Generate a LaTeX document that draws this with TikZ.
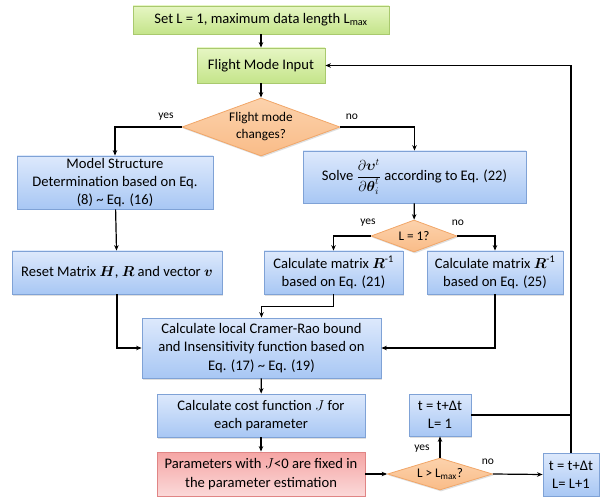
\documentclass[tikz,border=0pt]{standalone}
\usepackage{amsmath}
\usepackage{fontspec}
\setmainfont{Carlito}
\usetikzlibrary{shapes.geometric,arrows.meta,shadows,calc}
\begin{document}
\begin{tikzpicture}[x=1pt,y=-1pt,
  base/.style={draw, line width=0.8pt, align=center, inner sep=1pt,
    font={\fontsize{14.6}{18.3}\selectfont},
    drop shadow={opacity=0.25, shadow xshift=1pt, shadow yshift=-1.5pt}},
  greenbox/.style={base, top color=gbtop, bottom color=gbbot, draw=gbline},
  bluebox/.style={base, top color=bbtop, bottom color=bbbot, draw=bbline},
  redbox/.style={base, top color=rbtop, bottom color=rbbot, draw=rbline},
  decision/.style={base, shape=diamond, inner sep=0pt, top color=obtop, bottom color=obbot, draw=obline,
    font={\fontsize{13.2}{17}\selectfont}},
  conn/.style={line width=1.2pt, -{Stealth[length=5.5pt,width=4.5pt]}},
  plain/.style={line width=1.2pt},
  lbl/.style={font={\fontsize{11.5}{13}\selectfont}, inner sep=0pt}
]
\definecolor{gbtop}{HTML}{E6F6C3}
\definecolor{gbbot}{HTML}{C4E48A}
\definecolor{gbline}{HTML}{A9C96E}
\definecolor{bbtop}{HTML}{DDE9FC}
\definecolor{bbbot}{HTML}{A8C7F4}
\definecolor{bbline}{HTML}{7FA2D6}
\definecolor{rbtop}{HTML}{F5A5A4}
\definecolor{rbbot}{HTML}{FBD9D9}
\definecolor{rbline}{HTML}{E08585}
\definecolor{obtop}{HTML}{FCD2AC}
\definecolor{obbot}{HTML}{F9BC88}
\definecolor{obline}{HTML}{F1A668}
\useasboundingbox (0,0) rectangle (600,497);

\node[greenbox, minimum width=256, minimum height=28] (start) at (261,20)
  {Set L = 1, maximum data length L\textsubscript{max}};
\node[greenbox, minimum width=128, minimum height=35] (fmi) at (261,65.5)
  {Flight Mode Input};
\node[decision, minimum width=158, minimum height=58, shape aspect=2.7] (dec1) at (261,127)
  {Flight mode\\changes?};
\node[bluebox, minimum width=196, minimum height=53] (model) at (115,182.5)
  {Model Structure\\Determination based on Eq.\\(8) \textasciitilde{} Eq. (16)};
\node[bluebox, minimum width=223, minimum height=52] (solve) at (414.5,177)
  {Solve $\displaystyle\frac{\partial\boldsymbol{\upsilon}^{t}}{\partial\boldsymbol{\theta}_{i}^{t}}$ according to Eq. (22)};
\node[decision, minimum width=86, minimum height=32, shape aspect=2.7] (dec2) at (414,236)
  {L = 1?};
\node[bluebox, minimum width=210, minimum height=43] (reset) at (117,272.5)
  {Reset Matrix $\boldsymbol{H}$, $\boldsymbol{R}$ and vector $\boldsymbol{v}$};
\node[bluebox, minimum width=139, minimum height=43] (r21) at (333.5,272.5)
  {Calculate matrix $\boldsymbol{R}^{\text{-1}}$\\based on Eq. (21)};
\node[bluebox, minimum width=136, minimum height=43] (r25) at (495,272.5)
  {Calculate matrix $\boldsymbol{R}^{\text{-1}}$\\based on Eq. (25)};
\node[bluebox, minimum width=239, minimum height=60] (crlb) at (261.5,348)
  {Calculate local Cramer-Rao bound\\and Insensitivity function based on\\Eq. (17) \textasciitilde{} Eq. (19)};
\node[bluebox, minimum width=208, minimum height=43] (cost) at (261,415.5)
  {Calculate cost function $J$ for\\each parameter};
\node[redbox, minimum width=208, minimum height=44] (red) at (261,474)
  {Parameters with $J$<0 are fixed in\\the parameter estimation};
\node[decision, minimum width=105, minimum height=32, shape aspect=3.3] (dec3) at (440,474)
  {L > L\textsubscript{max}?};
\node[bluebox, minimum width=62, minimum height=42] (t1) at (440,415)
  {t = t+Δt\\L= 1};
\node[bluebox, minimum width=56, minimum height=43] (t2) at (571,474.5)
  {t = t+Δt\\L= L+1};

\draw[conn] (start) -- (fmi);
\draw[conn] (fmi) -- (dec1);
\draw[conn] (dec1.west) -| (model.north);
\draw[conn] (dec1.east) -| (solve.north);
\draw[conn] (model) -- (reset);
\draw[conn] (reset.south) |- (crlb.west);
\draw[conn] (solve) -- (dec2);
\draw[conn] (dec2.west) -| (r21.north);
\draw[conn] (dec2.east) -| (r25.north);
\coordinate (j21) at ($(r21.south)+(0,12)$);
\draw[conn] (r21.south) -- (j21) -| (crlb.north);
\draw[conn] (r25.south) |- (crlb.east);
\draw[conn] (crlb) -- (cost);
\draw[conn] (cost) -- (red);
\draw[conn] (red.east) -- (dec3.west);
\draw[conn] (dec3.north) -- (t1.south);
\draw[conn] (dec3.east) -- (t2.west);
\draw[conn] (t2.north) |- (fmi.east);
\draw[plain] (t1.east) -- (t1.east -| t2.north);

\node[lbl] (y1) at (166,117) {yes};
\node[lbl] (n1) at (352,117) {no};
\node[lbl] (y2) at (368,223) {yes};
\node[lbl] (n2) at (458,223) {no};
\node[lbl] (y3) at (422,449) {yes};
\node[lbl] (n3) at (488,462) {no};
\end{tikzpicture}
\end{document}
